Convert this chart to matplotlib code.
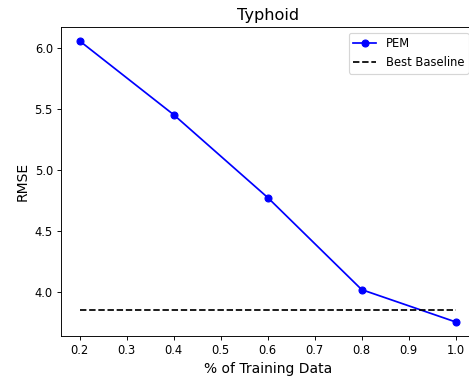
import numpy as np
import matplotlib
matplotlib.use('Agg')
import matplotlib.pyplot as plt

FRACTIONS = [0.2, 0.4, 0.6, 0.8, 1.0]
PEM_RMSE = [6.055, 5.452, 4.775, 4.022, 3.758]
BASELINE_RMSE = 3.858

DPI = 83
W, H = 469, 379

fig = plt.figure(figsize = (W / DPI, H / DPI), dpi = DPI)
# axes extends slightly past right edge like the cropped original
ax = fig.add_axes([61 / W, 43 / H, (474.5 - 61) / W, (336 - 27) / H])

ax.plot(FRACTIONS, PEM_RMSE, marker = 'o', color = 'blue', label = 'PEM')
ax.plot([FRACTIONS[0], FRACTIONS[-1]], [BASELINE_RMSE, BASELINE_RMSE],
    linestyle = '--', color = 'black', label = 'Best Baseline')

ax.set_xticks(np.arange(0.2, 1.01, 0.1))
ax.set_xlabel('% of Training Data', fontsize = 12)
ax.set_ylabel('RMSE', fontsize = 12)
ax.set_title('Typhoid', fontsize = 14)
ax.legend(loc = 'upper right')

fig.savefig('out.png', dpi = DPI)
